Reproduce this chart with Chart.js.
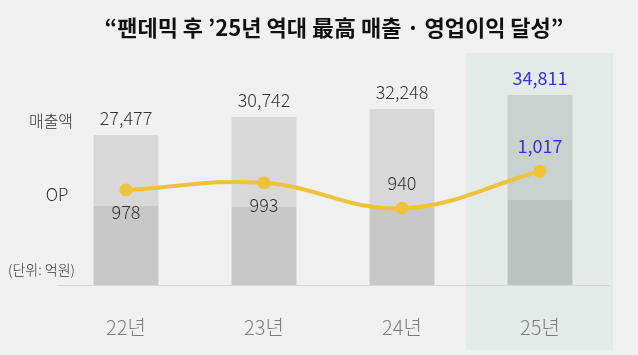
<!DOCTYPE html>
<html><head><meta charset="utf-8">
<script src="https://cdn.jsdelivr.net/npm/chart.js@4"></script>
<style>
html,body{margin:0;padding:0;background:#f0f0f0;}
#wrap{width:638px;height:355px;position:relative;}
</style></head>
<body><div id="wrap"><canvas id="c" width="638" height="355"></canvas></div>
<script>
const categories = ['22년', '23년', '24년', '25년'];
const revenue = [27477, 30742, 32248, 34811];
const revenueLower = [14500, 14300, 14300, 15600];
const operatingProfit = [978, 993, 940, 1017];
const revenueLabels = ['27,477', '30,742', '32,248', '34,811'];
const opLabels = ['978', '993', '940', '1,017'];
const title = '“팬데믹 후 ’25년 역대 最高 매출 · 영업이익 달성”';

const FONT = '"Noto Sans CJK KR", "Noto Sans", sans-serif';
const HL = 3;
const BLUE = '#3a30d6';
const revenueUpper = revenue.map((v, i) => v - revenueLower[i]);
const opPos = ['below', 'below', 'above', 'above'];

const overlay = {
  id: 'overlay',
  beforeDraw(chart) {
    const ctx = chart.ctx, x = chart.scales.x;
    const xc = x.getPixelForValue(HL);
    ctx.save();
    ctx.fillStyle = '#e3eae7';
    ctx.fillRect(xc - 74, 53, 147, 297);
    ctx.restore();
  },
  afterDatasetsDraw(chart) {
    const ctx = chart.ctx;
    const x = chart.scales.x, y = chart.scales.y, y2 = chart.scales.y2;
    ctx.save();
    ctx.textAlign = 'center';
    ctx.textBaseline = 'middle';
    ctx.fillStyle = '#111';
    ctx.font = 'bold 22px ' + FONT;
    ctx.fillText(title, 334, 28);
    revenue.forEach((v, i) => {
      ctx.font = (i === HL ? '400' : '300') + ' 18px ' + FONT;
      ctx.fillStyle = i === HL ? BLUE : '#333';
      ctx.fillText(revenueLabels[i], x.getPixelForValue(i), y.getPixelForValue(v) - 17);
    });
    operatingProfit.forEach((v, i) => {
      ctx.font = (i === HL ? '400' : '300') + ' 18px ' + FONT;
      ctx.fillStyle = i === HL ? BLUE : '#333';
      const py = y2.getPixelForValue(v);
      ctx.fillText(opLabels[i], x.getPixelForValue(i), opPos[i] === 'below' ? py + 22 : py - 25);
    });
    ctx.fillStyle = '#333';
    ctx.font = '300 16px ' + FONT;
    ctx.fillText('매출액', 51, y.getPixelForValue(revenue[0]) - 14);
    ctx.font = '300 17px ' + FONT;
    ctx.fillText('OP', 57, y2.getPixelForValue(operatingProfit[0]) + 5);
    ctx.font = '300 14px ' + FONT;
    ctx.textAlign = 'left';
    ctx.fillText('(단위: 억원)', 8, 270);
    ctx.restore();
  }
};

new Chart(document.getElementById('c'), {
  data: {
    labels: categories,
    datasets: [
      {
        type: 'line', label: 'OP', data: operatingProfit, yAxisID: 'y2', order: 0,
        borderColor: '#efc23c', backgroundColor: '#efc23c', borderWidth: 4,
        pointRadius: 6.5, pointBackgroundColor: '#efc23c', pointBorderWidth: 0,
        tension: 0.4
      },
      {
        type: 'bar', label: 'lower', data: revenueLower, yAxisID: 'y', order: 1, stack: 's',
        backgroundColor: categories.map((c, i) => i === HL ? '#bbc4c1' : '#c8c8c8'),
        barPercentage: 0.47, categoryPercentage: 1
      },
      {
        type: 'bar', label: 'upper', data: revenueUpper, yAxisID: 'y', order: 1, stack: 's',
        backgroundColor: categories.map((c, i) => i === HL ? '#cad2cf' : '#d8d8d8'),
        barPercentage: 0.47, categoryPercentage: 1
      }
    ]
  },
  options: {
    responsive: false, animation: false,
    layout: { padding: { left: 57, right: 29, top: 60, bottom: 0 } },
    plugins: { legend: { display: false }, tooltip: { enabled: false }, title: { display: false } },
    scales: {
      x: {
        stacked: true,
        grid: { display: false, drawTicks: false },
        border: { display: true, color: '#d6d6d6', width: 1 },
        ticks: { color: '#7d7d7d', font: { family: FONT, size: 20, weight: '300' }, padding: 30 },
        afterFit(s) { s.height = 70; }
      },
      y: { stacked: true, display: false, min: 0, max: 41200 },
      y2: { display: false, min: 780, max: 1249 }
    }
  },
  plugins: [overlay]
});
</script></body></html>
